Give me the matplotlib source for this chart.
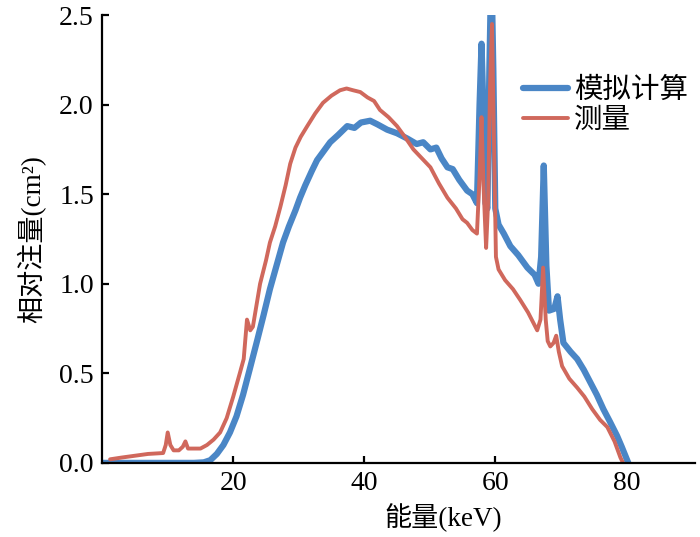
import numpy as np
import matplotlib
matplotlib.use('Agg')
import matplotlib.pyplot as plt

# Familias: números en serif (Times), caracteres chinos con Noto CJK
plt.rcParams['font.family'] = ['Liberation Serif', 'Noto Sans CJK SC', 'DejaVu Sans']

# Datos: energía (keV) y fluencia relativa
e_sim = [0, 5, 10, 14, 15.5, 16.5, 17.5, 18.5, 19.5, 20.5, 21.5, 22.5, 23.7, 24.6,
         25.6, 26.6, 27.6, 28.5, 29.5, 30.2, 31.0, 32.0, 32.8, 33.8, 34.8, 36.0,
         37.4, 38.5, 39.5, 40.9, 42.0, 43.5, 45.0, 46.6, 48.0, 49.0, 50.1, 51.0,
         51.8, 52.7, 53.5, 54.5, 55.7, 56.5, 57.2, 57.6, 57.9, 58.2, 58.5, 58.8,
         59.1, 59.4, 59.7, 60.0, 60.5, 61.3, 62.3, 63.5, 64.9, 66.0, 66.6, 67.0,
         67.4, 67.8, 68.2, 69.0, 69.5, 69.9, 70.4, 71.5, 72.5, 73.5, 74.5, 75.5,
         76.5, 77.5, 78.6, 79.3, 80.3]
v_sim = [0, 0, 0, 0, 0.003, 0.015, 0.05, 0.10, 0.17, 0.26, 0.38, 0.52, 0.69, 0.82,
         0.97, 1.10, 1.23, 1.32, 1.41, 1.48, 1.55, 1.63, 1.69, 1.74, 1.79, 1.83,
         1.88, 1.87, 1.90, 1.91, 1.89, 1.86, 1.84, 1.81, 1.78, 1.79, 1.75, 1.76,
         1.70, 1.65, 1.64, 1.58, 1.52, 1.50, 1.45, 2.00, 2.34, 1.95, 1.45, 1.42,
         2.20, 2.80, 2.20, 1.42, 1.33, 1.28, 1.21, 1.16, 1.09, 1.05, 1.00, 1.15,
         1.66, 1.10, 0.85, 0.86, 0.93, 0.80, 0.67, 0.62, 0.58, 0.52, 0.45, 0.38,
         0.30, 0.23, 0.15, 0.09, 0.0]

e_med = [1.2, 3, 5, 7, 9.3, 9.7, 10.0, 10.4, 10.9, 11.7, 12.3, 12.7, 13.1, 14, 15,
         16, 17, 18, 19, 20, 21, 21.6, 22.1, 22.6, 23.0, 24.1, 25.0, 25.6, 26.4,
         27.2, 28.0, 28.7, 29.5, 30.3, 31.3, 32.5, 33.7, 35.0, 36.3, 37.3, 38.3,
         39.4, 40.5, 41.5, 42.4, 43.7, 45.0, 46.2, 47.5, 48.8, 50.1, 51.4, 52.7,
         54.0, 55.0, 55.7, 56.5, 57.2, 57.6, 57.9, 58.2, 58.6, 58.9, 59.2, 59.5,
         59.8, 60.1, 60.5, 61.5, 62.7, 63.8, 65.0, 66.4, 66.9, 67.3, 67.7, 68.0,
         68.4, 68.9, 69.3, 69.7, 70.2, 71.3, 72.5, 73.6, 74.8, 76.0, 77.1, 78.2,
         79.1, 79.5]
v_med = [0.02, 0.03, 0.04, 0.05, 0.055, 0.10, 0.17, 0.10, 0.07, 0.07, 0.09, 0.12,
         0.08, 0.08, 0.08, 0.10, 0.13, 0.17, 0.25, 0.37, 0.50, 0.58, 0.80, 0.74,
         0.76, 1.00, 1.13, 1.23, 1.32, 1.43, 1.55, 1.67, 1.76, 1.82, 1.88, 1.95,
         2.01, 2.05, 2.08, 2.09, 2.08, 2.07, 2.04, 2.02, 1.97, 1.93, 1.88, 1.82,
         1.75, 1.70, 1.65, 1.56, 1.48, 1.42, 1.36, 1.34, 1.30, 1.28, 1.60, 1.93,
         1.55, 1.20, 1.45, 2.10, 2.45, 1.80, 1.15, 1.08, 1.02, 0.97, 0.91, 0.84,
         0.74, 0.80, 1.09, 0.80, 0.68, 0.65, 0.67, 0.71, 0.62, 0.54, 0.47, 0.42,
         0.37, 0.30, 0.24, 0.20, 0.12, 0.03, 0.0]

x_ticks = [20, 40, 60, 80]
y_ticks = [0.0, 0.5, 1.0, 1.5, 2.0, 2.5]

fig = plt.figure(figsize=(7, 5.37), dpi=100)
ax = fig.add_axes([0.146, 0.138, 0.847, 0.834])

ax.plot(e_sim, v_sim, color='#4A86C6', lw=4.5, label='模拟计算', solid_capstyle='round')
ax.plot(e_med, v_med, color='#D0685C', lw=2.8, label='测量', solid_capstyle='round')

ax.set_xlim(0, 90.5)
ax.set_ylim(0, 2.5)
ax.set_xticks(x_ticks)
ax.set_yticks(y_ticks)
ax.set_yticklabels([f'{t:.1f}' for t in y_ticks])

for lado in ['top', 'right']:
    ax.spines[lado].set_visible(False)
for lado in ['left', 'bottom']:
    ax.spines[lado].set_linewidth(1.6)

ax.tick_params(direction='in', length=5, width=1.6, labelsize=20, pad=6)

ax.set_xlabel('能量(keV)', fontsize=19.5)
ax.set_ylabel('相对注量(cm²)', fontsize=19.5)
ax.xaxis.set_label_coords(0.575, -0.09)
ax.yaxis.set_label_coords(-0.095, 0.5)

leg = ax.legend(loc='upper left', bbox_to_anchor=(0.69, 0.885), frameon=False,
                fontsize=20.5, handlelength=1.6, handletextpad=0.2,
                labelspacing=0.15, borderaxespad=0)

fig.savefig('out.png', dpi=100)
